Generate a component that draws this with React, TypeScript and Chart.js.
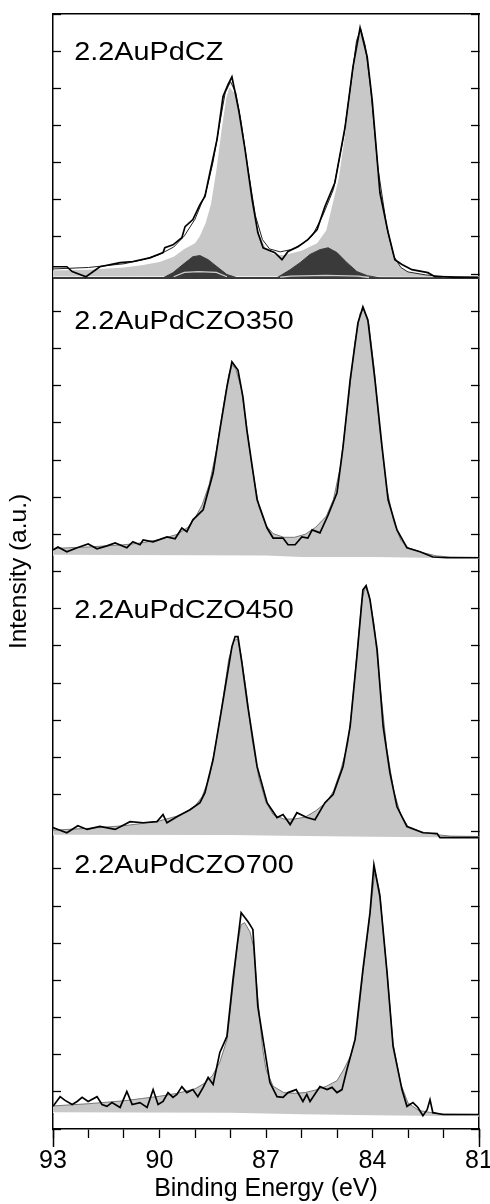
import React, { useEffect, useRef } from 'react';
import { Chart, registerables } from 'chart.js';

Chart.register(...registerables);

const FONT = "'Liberation Sans', Arial, Helvetica, sans-serif";

// Axis ticks / labels
const X_TICK_LABELS = [93, 90, 87, 84, 81];
const PANEL_LABELS = ['2.2AuPdCZ', '2.2AuPdCZO350', '2.2AuPdCZO450', '2.2AuPdCZO700'];
// vertical offset of each stacked spectrum (intensity units)
const PANEL_OFFSETS = [22.88, 15.34, 7.84, 0];

// ---------- Panel 1: 2.2AuPdCZ ----------
const P1_DATA_E = [93.0, 92.94, 92.61, 92.46, 92.07, 91.68, 91.11, 90.75, 90.27, 89.9, 89.85, 89.62, 89.37, 89.28, 89.06, 88.86, 88.72, 88.58, 88.38, 88.21, 88.07, 87.96, 87.76, 87.59, 87.39, 87.23, 87.08, 86.75, 86.55, 86.38, 86.1, 85.82, 85.56, 85.34, 85.06, 84.77, 84.55, 84.35, 84.15, 84.01, 83.79, 83.56, 83.37, 83.17, 82.89, 82.44, 82.24, 81.96, 81.68, 81.03];
const P1_DATA_I = [0.32, 0.32, 0.32, 0.19, 0.05, 0.32, 0.43, 0.46, 0.56, 0.7, 0.83, 0.91, 1.1, 1.4, 1.59, 1.99, 2.21, 2.85, 3.74, 4.9, 5.22, 5.43, 4.49, 3.47, 2.12, 1.24, 0.83, 0.7, 0.51, 0.73, 0.86, 1.05, 1.32, 1.94, 2.58, 4.09, 5.7, 6.75, 5.97, 4.81, 2.31, 1.24, 0.51, 0.38, 0.24, 0.16, 0.05, 0.05, 0.03, 0.03];
const P1_ENV_E = [93, 92, 91, 90.5, 90, 89.6, 89.3, 89.0, 88.7, 88.5, 88.3, 88.15, 88.0, 87.85, 87.7, 87.5, 87.3, 87.1, 86.9, 86.6, 86.3, 86.0, 85.7, 85.4, 85.1, 84.8, 84.6, 84.45, 84.33, 84.2, 84.05, 83.85, 83.6, 83.4, 83.2, 83.0, 82.5, 82.0, 81.0];
const P1_ENV_I = [0.26, 0.3, 0.4, 0.5, 0.65, 0.85, 1.15, 1.6, 2.3, 3.1, 4.2, 5.0, 5.3, 5.0, 4.2, 2.9, 1.7, 1.05, 0.8, 0.72, 0.78, 0.92, 1.15, 1.7, 2.4, 3.9, 5.3, 6.4, 6.72, 6.25, 5.1, 3.0, 1.4, 0.6, 0.3, 0.18, 0.1, 0.06, 0.04];
const P1_METAL_E = [93, 92, 91, 90.5, 90, 89.6, 89.3, 89.0, 88.86, 88.7, 88.55, 88.4, 88.25, 88.12, 88.03, 87.9, 87.75, 87.6, 87.4, 87.2, 87.0, 86.8, 86.5, 86.0, 85.56, 85.3, 85.1, 84.95, 84.77, 84.6, 84.49, 84.35, 84.2, 84.05, 83.85, 83.6, 83.4, 83.2, 83.0, 82.5, 82.0, 81.0];
const P1_METAL_I = [0.22, 0.24, 0.3, 0.36, 0.45, 0.59, 0.8, 0.95, 1.15, 1.5, 2.0, 2.9, 4.0, 4.85, 5.15, 5.0, 4.4, 3.4, 2.1, 1.2, 0.8, 0.66, 0.63, 0.75, 0.95, 1.3, 2.1, 2.7, 3.9, 5.4, 6.16, 6.62, 6.2, 5.0, 2.8, 1.4, 0.6, 0.3, 0.18, 0.1, 0.07, 0.06];
const P1_BG_E = [93, 81];
const P1_BG_I = [0.07, 0.05];
const P1_BAND_E = [93, 81];
const P1_BAND_I = [0.025, 0.025];
const P1_OX_A_E = [89.9, 89.62, 89.34, 89.06, 88.86, 88.63, 88.38, 88.1, 87.8];
const P1_OX_A_I = [0.02, 0.16, 0.38, 0.59, 0.62, 0.51, 0.32, 0.11, 0.02];
const P1_OX_B_E = [86.7, 86.32, 86.04, 85.76, 85.48, 85.25, 85.0, 84.72, 84.44, 84.15, 83.8];
const P1_OX_B_I = [0.02, 0.24, 0.43, 0.65, 0.78, 0.83, 0.7, 0.43, 0.19, 0.08, 0.02];
const P1_MINOR_A_E = [89.6, 89.3, 88.9, 88.4, 88.1];
const P1_MINOR_A_I = [0.05, 0.17, 0.19, 0.17, 0.05];
const P1_MINOR_B_E = [86.6, 86.3, 85.3, 84.4, 84.1];
const P1_MINOR_B_I = [0.04, 0.07, 0.09, 0.07, 0.03];

// ---------- Panel 2: 2.2AuPdCZO350 ----------
const P2_DATA_E = [93.0, 92.86, 92.61, 92.32, 92.01, 91.76, 91.48, 91.25, 90.92, 90.75, 90.55, 90.46, 90.18, 89.79, 89.56, 89.37, 89.23, 89.06, 88.77, 88.49, 88.3, 88.1, 87.96, 87.79, 87.65, 87.54, 87.25, 86.97, 86.8, 86.52, 86.38, 86.18, 85.99, 85.82, 85.7, 85.48, 85.25, 85.0, 84.83, 84.63, 84.41, 84.27, 84.13, 83.93, 83.73, 83.56, 83.31, 83.03, 82.66, 82.3, 81.9, 81.0];
const P2_DATA_I = [0.24, 0.32, 0.19, 0.3, 0.4, 0.27, 0.35, 0.43, 0.3, 0.46, 0.38, 0.51, 0.46, 0.59, 0.54, 0.83, 0.73, 1.05, 1.32, 2.31, 3.47, 4.63, 5.3, 5.08, 4.36, 3.47, 1.59, 0.83, 0.56, 0.56, 0.38, 0.38, 0.59, 0.56, 0.78, 0.7, 1.18, 1.78, 3.01, 4.81, 6.35, 6.78, 6.43, 4.81, 3.01, 1.59, 0.78, 0.3, 0.19, 0.05, 0.03, 0.03];
const P2_FIT_E = [93, 92, 91, 90.5, 90, 89.5, 89.2, 89.0, 88.8, 88.6, 88.4, 88.2, 88.05, 87.95, 87.85, 87.7, 87.55, 87.4, 87.2, 87.0, 86.8, 86.5, 86.2, 85.9, 85.6, 85.3, 85.1, 84.9, 84.7, 84.5, 84.35, 84.25, 84.1, 83.95, 83.8, 83.6, 83.4, 83.2, 83.0, 82.6, 82.2, 81.8, 81.0];
const P2_FIT_I = [0.28, 0.32, 0.38, 0.43, 0.52, 0.66, 0.85, 1.1, 1.45, 2.0, 2.9, 4.1, 4.95, 5.22, 5.1, 4.6, 3.6, 2.5, 1.4, 0.9, 0.68, 0.58, 0.58, 0.66, 0.85, 1.15, 1.6, 2.5, 4.1, 5.8, 6.6, 6.72, 6.3, 5.1, 3.5, 1.9, 1.0, 0.5, 0.3, 0.17, 0.08, 0.05, 0.04];
const P2_BG_E = [93, 87, 86, 84, 82.5, 81];
const P2_BG_I = [0.11, 0.09, 0.05, 0.05, 0.03, 0.02];

// ---------- Panel 3: 2.2AuPdCZO450 ----------
const P3_DATA_E = [93.0, 92.86, 92.61, 92.3, 92.04, 91.68, 91.25, 90.83, 90.46, 90.07, 89.9, 89.79, 89.51, 89.14, 88.86, 88.72, 88.49, 88.24, 87.96, 87.87, 87.79, 87.68, 87.51, 87.25, 86.97, 86.69, 86.52, 86.32, 86.13, 85.85, 85.62, 85.34, 85.11, 84.83, 84.63, 84.44, 84.27, 84.18, 84.07, 83.87, 83.7, 83.51, 83.31, 83.03, 82.58, 82.18, 82.1, 81.0];
const P3_DATA_I = [0.27, 0.22, 0.13, 0.32, 0.22, 0.3, 0.22, 0.43, 0.4, 0.43, 0.62, 0.4, 0.56, 0.75, 0.94, 1.21, 2.1, 3.52, 5.14, 5.41, 5.41, 4.71, 3.52, 1.91, 0.94, 0.54, 0.62, 0.35, 0.67, 0.54, 0.48, 0.94, 1.16, 1.91, 2.99, 4.87, 6.67, 6.78, 6.4, 5.06, 2.99, 1.75, 0.83, 0.3, 0.13, 0.11, 0.0, 0.0];
const P3_FIT_E = [93, 92, 91, 90.5, 90, 89.5, 89.2, 89.0, 88.8, 88.6, 88.4, 88.2, 88.05, 87.9, 87.8, 87.7, 87.55, 87.4, 87.2, 87.0, 86.8, 86.5, 86.2, 85.9, 85.6, 85.3, 85.1, 84.9, 84.7, 84.6, 84.5, 84.3, 84.2, 84.1, 83.95, 83.8, 83.6, 83.4, 83.2, 83.0, 82.6, 82.2, 81.8, 81.0];
const P3_FIT_I = [0.2, 0.25, 0.32, 0.38, 0.45, 0.58, 0.72, 0.85, 1.1, 1.6, 2.6, 3.8, 4.8, 5.3, 5.35, 4.9, 3.9, 2.7, 1.6, 0.95, 0.62, 0.5, 0.5, 0.55, 0.72, 0.95, 1.25, 1.8, 2.5, 3.3, 4.3, 6.4, 6.75, 6.55, 5.7, 4.2, 2.4, 1.25, 0.6, 0.3, 0.15, 0.08, 0.04, 0.03];
const P3_BG_E = [93, 88, 86.5, 84, 81];
const P3_BG_I = [0.08, 0.07, 0.05, 0.02, 0.0];

// ---------- Panel 4: 2.2AuPdCZO700 ----------
const P4_DATA_E = [93.0, 92.8, 92.66, 92.46, 92.32, 92.18, 92.01, 91.76, 91.62, 91.48, 91.34, 91.11, 90.92, 90.77, 90.55, 90.35, 90.18, 90.04, 89.9, 89.76, 89.62, 89.51, 89.37, 89.23, 89.06, 88.92, 88.77, 88.63, 88.49, 88.3, 88.1, 87.93, 87.7, 87.51, 87.37, 87.23, 86.89, 86.69, 86.52, 86.38, 86.15, 85.96, 85.85, 85.76, 85.48, 85.28, 85.14, 85.0, 84.86, 84.72, 84.49, 84.27, 84.07, 83.96, 83.79, 83.59, 83.42, 83.17, 83.03, 82.86, 82.72, 82.58, 82.46, 82.38, 82.3, 82.01, 81.0];
const P4_DATA_I = [0.61, 0.87, 0.77, 0.66, 0.74, 0.85, 0.74, 0.87, 0.66, 0.61, 0.71, 0.58, 1.01, 0.66, 0.71, 0.58, 1.06, 0.66, 0.74, 0.98, 0.85, 0.93, 1.14, 0.98, 1.06, 0.87, 1.12, 1.39, 1.2, 2.06, 2.49, 4.02, 5.82, 5.58, 5.37, 3.29, 1.25, 0.87, 0.85, 0.98, 1.06, 0.74, 0.93, 0.74, 1.14, 1.06, 1.12, 0.98, 1.06, 1.6, 2.41, 4.29, 5.82, 7.11, 6.25, 4.21, 2.22, 1.06, 0.61, 0.71, 0.58, 0.36, 0.52, 0.79, 0.44, 0.39, 0.39];
const P4_FIT_E = [93, 92, 91, 90.5, 90, 89.5, 89.0, 88.7, 88.5, 88.3, 88.1, 87.93, 87.8, 87.7, 87.6, 87.45, 87.35, 87.22, 87.1, 87.0, 86.8, 86.5, 86.2, 85.9, 85.6, 85.3, 85.0, 84.8, 84.6, 84.45, 84.27, 84.07, 83.93, 83.8, 83.6, 83.42, 83.2, 83.0, 82.7, 82.4, 82.2, 82.0, 81.0];
const P4_FIT_I = [0.62, 0.68, 0.76, 0.82, 0.88, 0.96, 1.08, 1.25, 1.45, 1.8, 2.4, 3.85, 5.0, 5.5, 5.55, 5.3, 4.9, 3.4, 2.2, 1.6, 1.15, 0.98, 0.96, 0.98, 1.05, 1.15, 1.3, 1.62, 2.0, 2.6, 4.2, 5.8, 6.95, 6.4, 4.3, 2.3, 1.2, 0.7, 0.5, 0.45, 0.42, 0.4, 0.39];
const P4_BG_E = [93, 88, 86, 84, 82, 81];
const P4_BG_I = [0.45, 0.44, 0.4, 0.37, 0.35, 0.35];

// label placement (x in eV, y in intensity units)
const LABEL_X = 92.4;
const LABEL_Y = [28.77, 21.53, 13.76, 6.9];

const PANELS = [
  { dataE: P1_DATA_E, dataI: P1_DATA_I, fitE: P1_METAL_E, fitI: P1_METAL_I, bgE: P1_BG_E, bgI: P1_BG_I },
  { dataE: P2_DATA_E, dataI: P2_DATA_I, fitE: P2_FIT_E, fitI: P2_FIT_I, bgE: P2_BG_E, bgI: P2_BG_I },
  { dataE: P3_DATA_E, dataI: P3_DATA_I, fitE: P3_FIT_E, fitI: P3_FIT_I, bgE: P3_BG_E, bgI: P3_BG_I },
  { dataE: P4_DATA_E, dataI: P4_DATA_I, fitE: P4_FIT_E, fitI: P4_FIT_I, bgE: P4_BG_E, bgI: P4_BG_I },
];

const FILL_GREY = '#c8c8c8';
const DARK = '#3a3a3a';

function pts(es: number[], is: number[], off: number) {
  return es.map((e, i) => ({ x: e, y: is[i] + off })).sort((a, b) => a.x - b.x);
}

function buildDatasets() {
  const ds: any[] = [];
  const add = (d: any) => {
    ds.push({ pointRadius: 0, pointHoverRadius: 0, tension: 0, fill: false, ...d });
    return ds.length - 1;
  };
  PANELS.forEach((p, k) => {
    const off = PANEL_OFFSETS[k];
    if (k === 0) {
      add({ data: pts(P1_BAND_E, P1_BAND_I, off), borderColor: DARK, borderWidth: 2.5, order: 7 });
    }
    const bgIdx = add({ data: pts(p.bgE, p.bgI, off), borderColor: '#ffffff', borderWidth: 1.2, order: 5 });
    add({
      data: pts(p.fitE, p.fitI, off),
      borderColor: k === 0 ? 'rgba(0,0,0,0)' : '#777777',
      borderWidth: 1,
      backgroundColor: FILL_GREY,
      fill: bgIdx,
      order: 4,
    });
    if (k === 0) {
      add({ data: pts(P1_OX_A_E, P1_OX_A_I, off), borderColor: DARK, borderWidth: 1, backgroundColor: DARK, fill: { value: off + 0.025 }, order: 3 });
      add({ data: pts(P1_OX_B_E, P1_OX_B_I, off), borderColor: DARK, borderWidth: 1, backgroundColor: DARK, fill: { value: off + 0.025 }, order: 3 });
      add({ data: pts(P1_MINOR_A_E, P1_MINOR_A_I, off), borderColor: '#cfcfcf', borderWidth: 1.3, order: 2 });
      add({ data: pts(P1_MINOR_B_E, P1_MINOR_B_I, off), borderColor: '#cfcfcf', borderWidth: 1.3, order: 2 });
      add({ data: pts(P1_ENV_E, P1_ENV_I, off), borderColor: '#222222', borderWidth: 1, order: 1 });
    }
    add({ data: pts(p.dataE, p.dataI, off), borderColor: '#000000', borderWidth: 1.7, order: 0 });
  });
  return ds;
}

const extrasPlugin = {
  id: 'xpsExtras',
  afterDraw(chart: any) {
    const { ctx, chartArea, scales } = chart;
    const xs = scales.x;
    const ys = scales.y;
    ctx.save();
    ctx.strokeStyle = '#000';
    ctx.lineWidth = 1.5;
    [93, 81].forEach((e) => {
      const px = Math.round(xs.getPixelForValue(e)) + 0.5;
      ctx.beginPath();
      ctx.moveTo(px, chartArea.bottom);
      ctx.lineTo(px, chartArea.bottom + 18);
      ctx.stroke();
    });
    ctx.fillStyle = '#000';
    ctx.font = `25.5px ${FONT}`;
    ctx.textBaseline = 'alphabetic';
    ctx.textAlign = 'left';
    PANEL_LABELS.forEach((t, i) => {
      const px = xs.getPixelForValue(LABEL_X);
      const py = ys.getPixelForValue(LABEL_Y[i]);
      ctx.save();
      ctx.translate(px, py);
      ctx.scale(1.13, 1);
      ctx.fillText(t, 0, 0);
      ctx.restore();
    });
    ctx.restore();
  },
};

export default function App() {
  const ref = useRef<HTMLCanvasElement | null>(null);
  useEffect(() => {
    if (!ref.current) return;
    const chart = new Chart(ref.current, {
      type: 'line',
      data: { datasets: buildDatasets() },
      options: {
        animation: false,
        responsive: false,
        devicePixelRatio: 1,
        layout: { padding: 0, autoPadding: false },
        plugins: { legend: { display: false }, tooltip: { enabled: false } },
        events: [],
        scales: {
          x: {
            type: 'linear',
            position: 'bottom',
            min: 81,
            max: 93,
            reverse: true,
            ticks: {
              stepSize: 1,
              autoSkip: false,
              maxRotation: 0,
              color: '#000',
              padding: 8,
              font: { family: FONT, size: 25 },
              callback: (v: any) => (X_TICK_LABELS.includes(Number(v)) ? String(v) : ''),
            },
            grid: { display: true, drawOnChartArea: false, drawTicks: true, tickLength: 9, tickColor: '#000', tickWidth: 1.3 },
            border: { display: true, color: '#000', width: 1.5 },
            title: { display: true, text: 'Binding Energy (eV)', color: '#000', font: { family: FONT, size: 25 }, padding: { top: 0, bottom: 0 } },
            afterFit: (s: any) => { s.height = 75; s.paddingLeft = 0; s.paddingRight = 0; },
          },
          x2: {
            type: 'linear',
            position: 'top',
            min: 81,
            max: 93,
            reverse: true,
            ticks: { display: false },
            grid: { display: false },
            border: { display: true, color: '#000', width: 1.5 },
            afterFit: (s: any) => { s.height = 14; s.paddingLeft = 0; s.paddingRight = 0; },
          },
          y: {
            type: 'linear',
            position: 'left',
            min: 0,
            max: 30,
            ticks: { stepSize: 1, display: false },
            grid: { display: true, drawOnChartArea: false, drawTicks: true, tickLength: -8, tickColor: '#000', tickWidth: 1.3 },
            border: { display: true, color: '#000', width: 1.5 },
            title: { display: true, text: 'Intensity (a.u.)', color: '#000', font: { family: FONT, size: 24.5 }, padding: { top: 5, bottom: 0 } },
            afterFit: (s: any) => { s.width = 53; s.paddingTop = 0; s.paddingBottom = 0; },
          },
          y2: {
            type: 'linear',
            position: 'right',
            min: 0,
            max: 30,
            ticks: { stepSize: 1, display: false },
            grid: { display: true, drawOnChartArea: false, drawTicks: true, tickLength: -8, tickColor: '#000', tickWidth: 1.3 },
            border: { display: true, color: '#000', width: 1.5 },
            afterFit: (s: any) => { s.width = 11; s.paddingTop = 0; s.paddingBottom = 0; },
          },
        },
      } as any,
      plugins: [extrasPlugin],
    });
    return () => chart.destroy();
  }, []);
  return (
    <div style={{ position: 'absolute', left: 0, top: 0, width: 490, height: 1204, background: '#fff' }}>
      <canvas ref={ref} width={490} height={1204} style={{ display: 'block' }} />
    </div>
  );
}
